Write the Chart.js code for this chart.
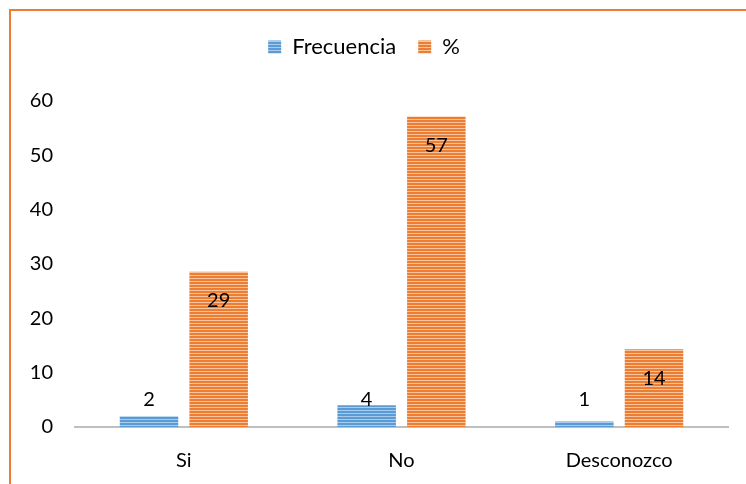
<!DOCTYPE html>
<html>
<head>
<meta charset="utf-8">
<script src="https://cdn.jsdelivr.net/npm/chart.js@4.4.0/dist/chart.umd.min.js"></script>
<style>
  html, body { margin: 0; padding: 0; background: #fff; }
  #frame {
    position: absolute; left: 9px; top: 9px; width: 737px; height: 475px;
    border-top: 2px solid #ed7d31; border-left: 2px solid #ed7d31;
  }
  #wrap { position: absolute; left: 0; top: 0; width: 746px; height: 484px; }
</style>
</head>
<body>
<div id="frame"></div>
<div id="wrap"><canvas id="chart" width="746" height="484"></canvas></div>
<script>
// datos del grafico
var categorias = ['Si', 'No', 'Desconozco'];
var frecuencia = [2, 4, 1];
var porcentaje = [28.57, 57.14, 14.29];
var seriesNombres = ['Frecuencia', '%'];
var ticksY = [0, 10, 20, 30, 40, 50, 60];

var fuente = 'Lato, "Open Sans", sans-serif';

// patron de rayas horizontales (como en Excel)
function rayas(oscuro, claro) {
    var c = document.createElement('canvas');
    c.width = 4; c.height = 3;
    var ctx = c.getContext('2d');
    ctx.fillStyle = oscuro;
    ctx.fillRect(0, 0, 4, 2);
    ctx.fillStyle = claro;
    ctx.fillRect(0, 2, 4, 1);
    return ctx.createPattern(c, 'repeat');
}

var azul = rayas('#5b9bd5', '#a9cbec');
var naranja = rayas('#ed7d31', '#f8c4a0');

// espacio reservado para la leyenda
var espacioLeyenda = {
    id: 'espacioLeyenda',
    beforeInit: function(chart) {
        var fit = chart.legend.fit;
        chart.legend.fit = function() {
            fit.call(this);
            this.height = 87;
        };
    }
};

// etiquetas de datos
var etiquetas = {
    id: 'etiquetas',
    afterDatasetsDraw: function(chart) {
        var ctx = chart.ctx;
        var y0 = chart.scales.y.getPixelForValue(0);
        ctx.save();
        ctx.font = '20px ' + fuente;
        ctx.fillStyle = '#000';
        ctx.textAlign = 'center';
        ctx.textBaseline = 'middle';
        chart.data.datasets.forEach(function(ds, i) {
            chart.getDatasetMeta(i).data.forEach(function(bar, j) {
                var txt = String(Math.round(ds.data[j]));
                var y = i === 0 ? y0 - 27 : bar.y + 29;
                ctx.fillText(txt, bar.x, y);
            });
        });
        ctx.restore();
    }
};

var ctx = document.getElementById('chart').getContext('2d');
var grafico = new Chart(ctx, {
    type: 'bar',
    data: {
        labels: categorias,
        datasets: [{
            label: seriesNombres[0],
            data: frecuencia,
            backgroundColor: azul,
            borderWidth: 0
        }, {
            label: seriesNombres[1],
            data: porcentaje,
            backgroundColor: naranja,
            borderWidth: 0
        }]
    },
    options: {
        responsive: false,
        animation: false,
        categoryPercentage: 0.64,
        barPercentage: 0.84,
        layout: { padding: { top: 14, right: 18, bottom: 12, left: 0 } },
        plugins: {
            tooltip: { enabled: false },
            legend: {
                position: 'top',
                labels: {
                    boxWidth: 13,
                    boxHeight: 13,
                    padding: 22,
                    color: '#000',
                    font: { family: fuente, size: 22 }
                }
            }
        },
        scales: {
            x: {
                afterFit: function(scale) { scale.height = 45; },
                grid: { display: false, drawTicks: false },
                border: { display: true, color: '#bfbfbf', width: 2 },
                ticks: { color: '#000', padding: 22, font: { family: fuente, size: 20 } }
            },
            y: {
                min: 0,
                max: 60,
                afterFit: function(scale) { scale.width = 75; },
                afterBuildTicks: function(scale) {
                    scale.ticks = ticksY.map(function(v) { return { value: v }; });
                },
                grid: { display: false, drawTicks: false },
                border: { display: false },
                ticks: { color: '#000', padding: 22, font: { family: fuente, size: 20 } }
            }
        }
    },
    plugins: [espacioLeyenda, etiquetas]
});
</script>
</body>
</html>
